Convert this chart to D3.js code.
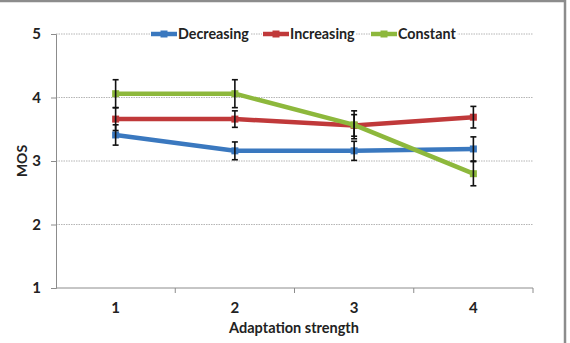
<!DOCTYPE html>
<html>
<head>
<meta charset="UTF-8">
<script src="https://cdn.jsdelivr.net/npm/d3@7"></script>
<style>
  body { margin: 0; background: #fff; }
  text { font-family: Lato, "Open Sans", sans-serif; font-weight: bold; fill: #222; }
</style>
</head>
<body>
<script>
  // categories (adaptation strength) and MOS values
  const strengths = ["1", "2", "3", "4"];
  const seriesNames = ["Decreasing", "Increasing", "Constant"];
  const seriesColors = ["#3a78bf", "#c0393a", "#8db83c"];
  const decreasing = [3.41, 3.16, 3.16, 3.19];
  const increasing = [3.66, 3.66, 3.56, 3.69];
  const constant = [4.06, 4.06, 3.57, 2.80];
  const decreasingErr = [0.16, 0.14, 0.15, 0.19];
  const increasingErr = [0.18, 0.13, 0.17, 0.17];
  const constantErr = [0.22, 0.22, 0.22, 0.19];
  const yTicks = [1, 2, 3, 4, 5];

  const w = 570, h = 343;
  const plotLeft = 56, plotRight = 533, plotTop = 34, plotBottom = 288;

  const series = [
    { name: seriesNames[0], color: seriesColors[0], values: decreasing, err: decreasingErr },
    { name: seriesNames[1], color: seriesColors[1], values: increasing, err: increasingErr },
    { name: seriesNames[2], color: seriesColors[2], values: constant, err: constantErr }
  ];

  const svg = d3.select("body").append("svg")
    .attr("width", w)
    .attr("height", h);

  // outer frame
  svg.append("rect")
    .attr("x", -3).attr("y", 1)
    .attr("width", 568).attr("height", h + 5)
    .attr("fill", "none")
    .attr("stroke", "#8c8c8c")
    .attr("stroke-width", 2.5);

  const x = d3.scaleBand().domain(strengths).range([plotLeft, plotRight]);
  const y = d3.scaleLinear().domain([1, 5]).range([plotBottom, plotTop]);

  // dotted gridlines
  svg.append("g")
    .selectAll("line")
    .data(yTicks.slice(1))
    .enter().append("line")
    .attr("x1", plotLeft).attr("x2", plotRight)
    .attr("y1", d => y(d)).attr("y2", d => y(d))
    .attr("stroke", "#b5b5b5")
    .attr("stroke-dasharray", "1.5,1");

  // y axis
  const yAxis = d3.axisLeft(y).tickValues(yTicks).tickFormat(d3.format("d")).tickSize(5).tickPadding(10);
  const gy = svg.append("g")
    .attr("transform", "translate(" + plotLeft + ",0)")
    .call(yAxis);
  gy.select(".domain").attr("stroke", "#8c8c8c");
  gy.selectAll(".tick line").attr("stroke", "#8c8c8c");
  gy.selectAll(".tick text").style("font-size", "15px");

  // x axis: ticks between categories, like Excel
  const gx = svg.append("g")
    .attr("transform", "translate(0," + plotBottom + ")");
  gx.append("line")
    .attr("x1", plotLeft).attr("x2", plotRight)
    .attr("stroke", "#8c8c8c");
  gx.selectAll(".sep")
    .data(strengths)
    .enter().append("line")
    .attr("class", "sep")
    .attr("x1", d => x(d) + x.bandwidth()).attr("x2", d => x(d) + x.bandwidth())
    .attr("y1", 0).attr("y2", 5)
    .attr("stroke", "#8c8c8c");
  gx.selectAll("text")
    .data(strengths)
    .enter().append("text")
    .attr("x", d => x(d) + x.bandwidth() / 2)
    .attr("y", 25)
    .attr("text-anchor", "middle")
    .style("font-size", "15px")
    .text(d => d);

  // axis titles
  svg.append("text")
    .attr("x", 294)
    .attr("y", 333)
    .attr("text-anchor", "middle")
    .style("font-size", "14.5px")
    .text("Adaptation strength");

  svg.append("text")
    .attr("transform", "translate(27," + y(3) + ") rotate(-90)")
    .attr("text-anchor", "middle")
    .style("font-size", "14px")
    .text("MOS");

  const cx = d => x(d) + x.bandwidth() / 2;
  const line = d3.line()
    .x((d, i) => cx(strengths[i]))
    .y(d => y(d));

  // series lines
  series.forEach(s => {
    svg.append("path")
      .datum(s.values)
      .attr("d", line)
      .attr("fill", "none")
      .attr("stroke", s.color)
      .attr("stroke-width", 4.5)
      .attr("stroke-linejoin", "round");
    svg.append("g").selectAll("rect")
      .data(s.values)
      .enter().append("rect")
      .attr("x", (d, i) => cx(strengths[i]) - 3.5)
      .attr("y", d => y(d) - 3.5)
      .attr("width", 7).attr("height", 7)
      .attr("fill", s.color);
  });

  // error bars
  series.forEach(s => {
    const g = svg.append("g").attr("stroke", "#111").attr("stroke-width", 1.6);
    s.values.forEach((v, i) => {
      const px = cx(strengths[i]);
      const y0 = y(v + s.err[i]), y1 = y(v - s.err[i]);
      g.append("line").attr("x1", px).attr("x2", px).attr("y1", y0).attr("y2", y1);
      g.append("line").attr("x1", px - 3).attr("x2", px + 3).attr("y1", y0).attr("y2", y0);
      g.append("line").attr("x1", px - 3).attr("x2", px + 3).attr("y1", y1).attr("y2", y1);
    });
  });

  // legend
  const legendX = [151, 263, 371];
  const legend = svg.append("g");
  series.forEach((s, i) => {
    const lg = legend.append("g").attr("transform", "translate(" + legendX[i] + "," + plotTop + ")");
    lg.append("rect").attr("x", -1).attr("y", -4).attr("width", 29).attr("height", 8).attr("fill", "#fff");
    lg.append("line")
      .attr("x1", 0).attr("x2", 26)
      .attr("stroke", s.color)
      .attr("stroke-width", 4.5);
    lg.append("rect")
      .attr("x", 9.5).attr("y", -3.5)
      .attr("width", 7).attr("height", 7)
      .attr("fill", s.color);
    const t = lg.append("text")
      .attr("x", 27)
      .attr("y", 5)
      .style("font-size", "14.3px")
      .text(s.name);
    const bb = t.node().getBBox();
    lg.insert("rect", "text")
      .attr("x", 26).attr("y", -8)
      .attr("width", bb.width + 2).attr("height", 16)
      .attr("fill", "#fff");
  });
</script>
</body>
</html>
